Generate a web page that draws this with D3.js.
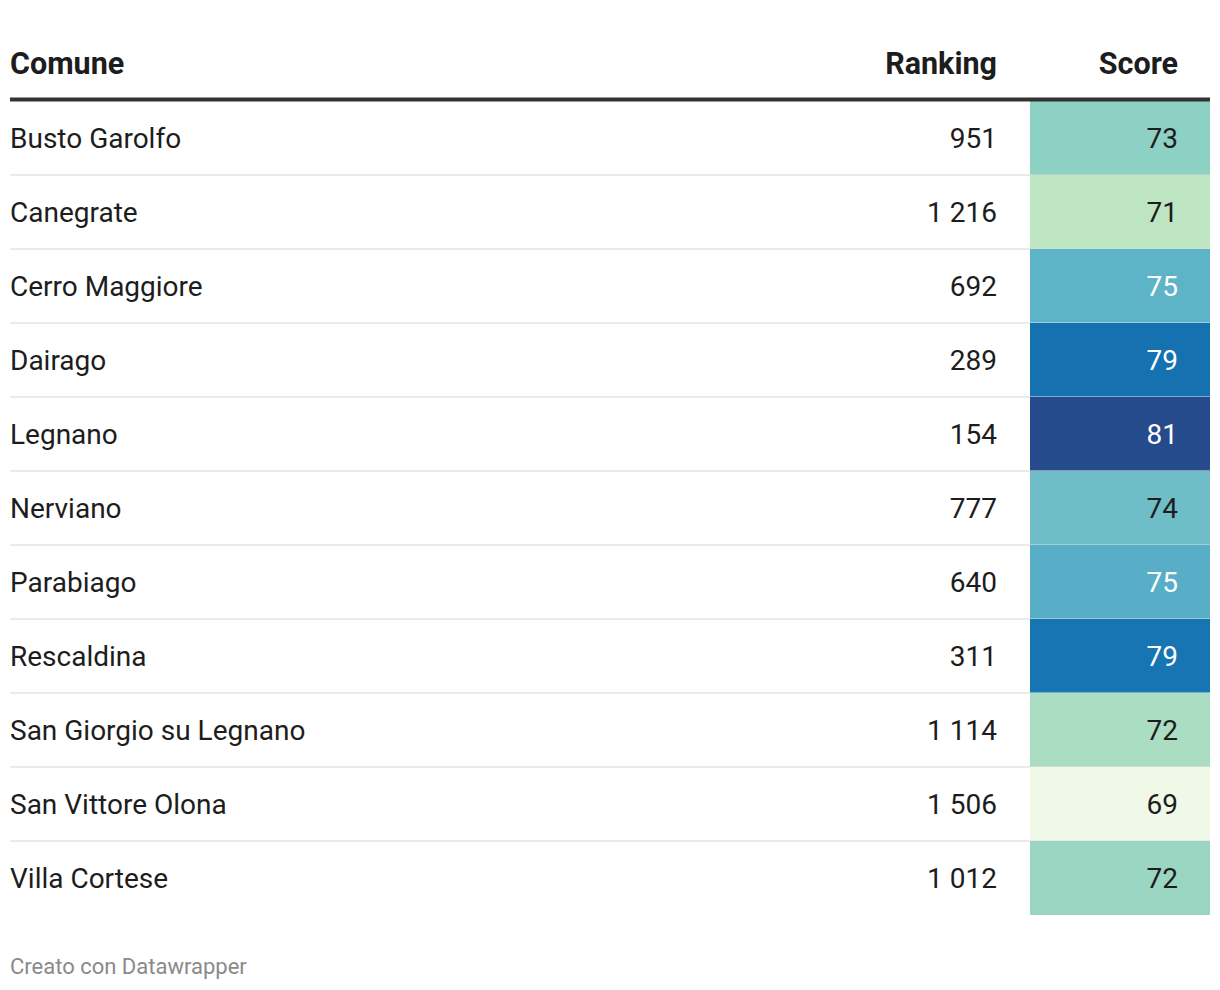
<!DOCTYPE html>
<html>
<head>
<meta charset="utf-8">
<script src="https://cdn.jsdelivr.net/npm/d3@7"></script>
<style>
  html, body { margin: 0; padding: 0; background: #fff; }
  svg { display: block; font-family: Roboto, "Noto Sans", sans-serif; }
</style>
</head>
<body>
<svg id="chart" width="1220" height="990"></svg>
<script>
// ---- data ----
const columns = ["Comune", "Ranking", "Score"];
const comuni = ["Busto Garolfo", "Canegrate", "Cerro Maggiore", "Dairago", "Legnano",
  "Nerviano", "Parabiago", "Rescaldina", "San Giorgio su Legnano", "San Vittore Olona", "Villa Cortese"];
const ranking = [951, 1216, 692, 289, 154, 777, 640, 311, 1114, 1506, 1012];
const score = [73.0, 71.0, 75.0, 79.1, 81.0, 74.3, 75.3, 78.9, 71.8, 69.0, 72.4];
const footer = "Creato con Datawrapper";

// ---- layout ----
const left = 10, right = 1210;
const headerLineY = 99.5;
const rowTop = 101, rowH = 74;
const scoreX0 = 1030;
const rankRight = 997, scoreRight = 1178;

const svg = d3.select("#chart");

const y = d3.scaleBand().domain(d3.range(comuni.length))
  .range([rowTop, rowTop + rowH * comuni.length]).padding(0);

const color = d3.scaleLinear()
  .domain([69, 71, 73, 75, 79, 81])
  .range(["#f0f9e8", "#bde5c1", "#8dd0c4", "#5db3c8", "#1473b1", "#254b8c"])
  .interpolate(d3.interpolateRgb);

const locale = d3.formatLocale({ decimal: ",", thousands: "\u00a0", grouping: [3], currency: ["", "€"] });
const fmt = locale.format(",d");

// header
const hdr = svg.append("g").attr("font-weight", 700).attr("font-size", 30.5).attr("fill", "#1d1d1d");
hdr.append("text").attr("x", left).attr("y", 74).text(columns[0]);
hdr.append("text").attr("x", rankRight).attr("y", 74).attr("text-anchor", "end").text(columns[1]);
hdr.append("text").attr("x", scoreRight).attr("y", 74).attr("text-anchor", "end").text(columns[2]);

const rows = svg.append("g").selectAll("g").data(comuni).join("g")
  .attr("transform", (d, i) => `translate(0,${y(i)})`);

rows.append("rect")
  .attr("x", scoreX0).attr("y", 0)
  .attr("width", right - scoreX0).attr("height", y.bandwidth())
  .attr("fill", (d, i) => color(score[i]));

rows.filter((d, i) => i < comuni.length - 1).append("line")
  .attr("x1", left).attr("x2", right)
  .attr("y1", y.bandwidth()).attr("y2", y.bandwidth())
  .attr("stroke", "#ebebeb")
  .attr("stroke-width", 2);

// subtle separator over colored cells
rows.filter((d, i) => i < comuni.length - 1).append("line")
  .attr("x1", scoreX0).attr("x2", right)
  .attr("y1", y.bandwidth()).attr("y2", y.bandwidth())
  .attr("stroke", (d, i) => d3.color(color(score[i])).darker(0.15))
  .attr("stroke-width", 2)
  .attr("opacity", 0.5);

const ty = y.bandwidth() / 2 + 10;
rows.append("text").attr("x", left).attr("y", ty)
  .attr("font-size", 28).attr("fill", "#1d1d1d").text(d => d);
rows.append("text").attr("x", rankRight).attr("y", ty).attr("text-anchor", "end")
  .attr("font-size", 28).attr("fill", "#1d1d1d").text((d, i) => fmt(ranking[i]));
rows.append("text").attr("x", scoreRight).attr("y", ty).attr("text-anchor", "end")
  .attr("font-size", 28)
  .attr("fill", (d, i) => d3.lab(color(score[i])).l < 70 ? "#ffffff" : "#1d1d1d")
  .text((d, i) => Math.round(score[i]));

// header rule
svg.append("line").attr("x1", left).attr("x2", right)
  .attr("y1", headerLineY).attr("y2", headerLineY)
  .attr("stroke", "#333333").attr("stroke-width", 4);

// footer
svg.append("text").attr("x", left).attr("y", 974)
  .attr("font-size", 22).attr("fill", "#8a8a8a").text(footer);
</script>
</body>
</html>
